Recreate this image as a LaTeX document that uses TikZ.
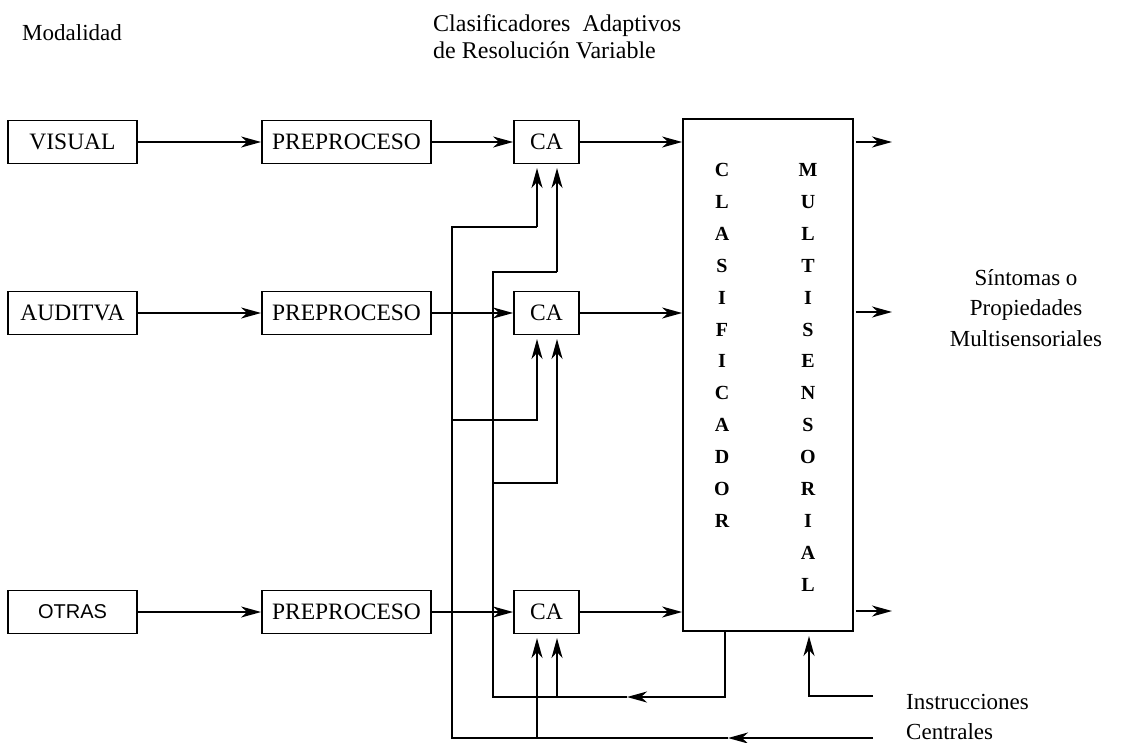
\documentclass[tikz,border=0pt]{standalone}
\usepackage{fontspec}
\setmainfont{Liberation Serif}
\newfontfamily\sansf{Liberation Sans}
\usetikzlibrary{arrows.meta}
\begin{document}
\begin{tikzpicture}[x=1pt,y=-1pt,
  box/.style={draw,line width=1.8pt,inner sep=0pt,minimum height=43pt,font=\fontsize{23.5}{26}\selectfont},
  conn/.style={line width=2pt},
  arr/.style={conn,-{Stealth[length=20pt,width=11pt,inset=6pt]}},
  lbl/.style={font=\fontsize{23}{26}\selectfont,inner sep=0pt},
  letter/.style={font=\fontsize{20}{22}\selectfont\bfseries,inner sep=0pt}
]
\useasboundingbox (0,0) rectangle (1123,742);
\fill[white] (0,0) rectangle (1123,742);

% left column
\node[box,minimum width=129pt] (vis) at (72.5,142) {VISUAL};
\node[box,minimum width=129pt] (aud) at (72.5,313) {AUDITVA};
\node[box,minimum width=129pt,font=\sansf\fontsize{20}{22}\selectfont] (otr) at (72.5,612) {OTRAS};
% preprocessing
\node[box,minimum width=169pt] (pre1) at (346.5,142) {PREPROCESO};
\node[box,minimum width=169pt] (pre2) at (346.5,313) {PREPROCESO};
\node[box,minimum width=169pt] (pre3) at (346.5,612) {PREPROCESO};
% adaptive classifiers
\node[box,minimum width=65pt] (ca1) at (546.5,142) {CA};
\node[box,minimum width=65pt] (ca2) at (546.5,313) {CA};
\node[box,minimum width=65pt] (ca3) at (546.5,612) {CA};
% multisensorial classifier
\node[draw,line width=1.8pt,minimum width=170pt,minimum height=512pt,inner sep=0pt] (cm) at (768,375) {};
\foreach \l [count=\i] in {C,L,A,S,I,F,I,C,A,D,O,R}
  \node[letter] (cl\i) at (722,{170+(\i-1)*31.9}) {\l};
\foreach \l [count=\i] in {M,U,L,T,I,S,E,N,S,O,R,I,A,L}
  \node[letter] (ml\i) at (808,{170+(\i-1)*31.9}) {\l};

% labels
\node[lbl,anchor=west] (mod) at (22,33) {Modalidad};
\node[lbl,anchor=west,font=\fontsize{24}{26}\selectfont] (t1) at (433,26) {Clasificadores\ \ Adaptivos};
\node[lbl,anchor=west,font=\fontsize{24}{26}\selectfont] (t2) at (433,50) {de Resolución Variable};
\node[lbl,align=center,font=\fontsize{23}{30.5}\selectfont] (sint) at (1026,308) {Síntomas o\\Propiedades\\Multisensoriales};
\node[lbl,anchor=west] (ins) at (906,702) {Instrucciones};
\node[lbl,anchor=base west] (cen) at (906,739) {Centrales};

% forward arrows
\draw[arr] (vis) -- (pre1);
\draw[arr] (aud) -- (pre2);
\draw[arr] (otr) -- (pre3);
\draw[arr] (pre1) -- (ca1);
\draw[arr] (pre2) -- (ca2);
\draw[arr] (pre3) -- (ca3);
\draw[arr] (ca1.east) -- (ca1.east -| cm.west);
\draw[arr] (ca2.east) -- (ca2.east -| cm.west);
\draw[arr] (ca3.east) -- (ca3.east -| cm.west);

% outputs
\coordinate (o1) at (892,142);
\coordinate (o2) at (892,312);
\coordinate (o3) at (892,611);
\draw[arr] (o1 -| cm.east) ++(2,0) -- (o1);
\draw[arr] (o2 -| cm.east) ++(2,0) -- (o2);
\draw[arr] (o3 -| cm.east) ++(2,0) -- (o3);

% central instructions (outer loop, x=452)
\coordinate (cenR) at (873,738);
\coordinate (cenM) at (728,738);
\coordinate (aL) at (452,738);
\draw[arr] (cenR) -- (cenM);
\draw[conn] (cenM) -- (aL) -- (452,227) -- (537,227);
\draw[arr] (537,227) -- (537,168);
\draw[arr] (452,420) -- (537,420) -- (537,339);
\draw[arr] (537,738) -- (537,638);

% classifier feedback (inner loop, x=493)
\coordinate (fbT) at (725,631);
\coordinate (fbM) at (627,697);
\draw[arr] (fbT) -- (725,697) -- (fbM);
\draw[conn] (fbM) -- (493,697) -- (493,272) -- (557,272);
\draw[arr] (557,272) -- (557,168);
\draw[arr] (493,483) -- (557,483) -- (557,339);
\draw[arr] (557,697) -- (557,638);

% instructions into classifier
\coordinate (insR) at (873,696);
\draw[arr] (insR) -- (809,696) -- (809,636);
\end{tikzpicture}
\end{document}
